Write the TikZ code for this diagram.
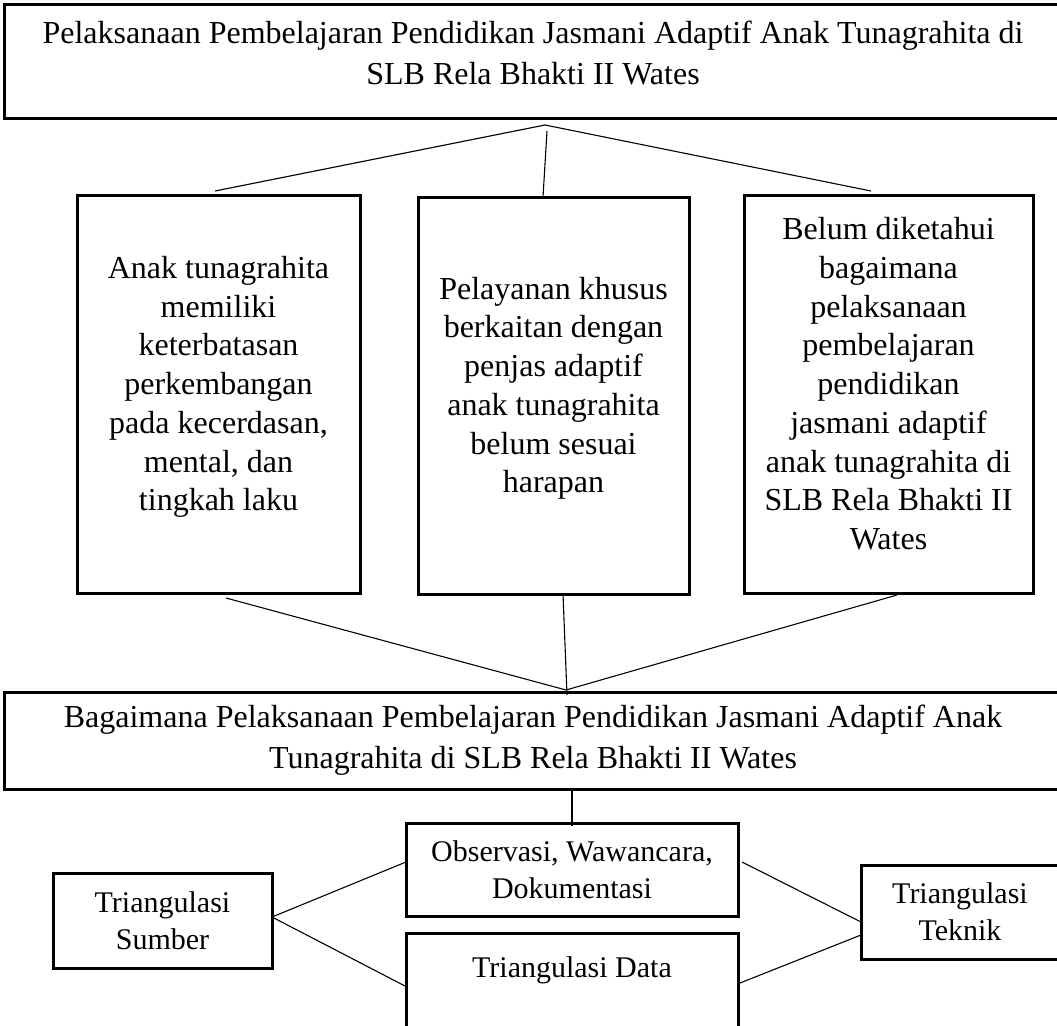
\documentclass[tikz,border=0pt]{standalone}
\usepackage{fontspec}
\setmainfont{Liberation Serif}
\usepackage{tikz}

\begin{document}
\begin{tikzpicture}[x=1pt,y=-1pt,
  mainbox/.style={draw,line width=3pt,align=center,inner sep=0pt,
    font=\fontsize{32}{41}\selectfont},
  issue/.style={draw,line width=3pt,align=center,inner sep=0pt,text depth=21pt,
    font=\fontsize{32}{38.75}\selectfont},
  method/.style={draw,line width=3pt,align=center,inner sep=0pt,
    font=\fontsize{30}{37}\selectfont},
  link/.style={line width=1.1pt}]
  \useasboundingbox (0,0) rectangle (1057,1025);
  \node[mainbox,text depth=18pt,minimum width=1058pt,minimum height=113pt] (judul) at (533,61.5)
    {Pelaksanaan Pembelajaran Pendidikan Jasmani Adaptif Anak Tunagrahita di\\SLB Rela Bhakti II Wates};
  \node[issue,minimum width=283pt,minimum height=398pt] (kiri) at (218.5,394)
    {Anak tunagrahita\\memiliki\\keterbatasan\\perkembangan\\pada kecerdasan,\\mental, dan\\tingkah laku};
  \node[issue,minimum width=271pt,minimum height=397pt] (tengah) at (553.5,395.5)
    {Pelayanan khusus\\berkaitan dengan\\penjas adaptif\\anak tunagrahita\\belum sesuai\\harapan};
  \node[issue,minimum width=289pt,minimum height=398pt] (kanan) at (888.5,394)
    {Belum diketahui\\bagaimana\\pelaksanaan\\pembelajaran\\pendidikan\\jasmani adaptif\\anak tunagrahita di\\SLB Rela Bhakti II\\Wates};
  \node[mainbox,minimum width=1058pt,minimum height=97pt] (rumusan) at (533,740.5)
    {Bagaimana Pelaksanaan Pembelajaran Pendidikan Jasmani Adaptif Anak\\Tunagrahita di SLB Rela Bhakti II Wates};
  \node[method,minimum width=332pt,minimum height=93pt] (teknik) at (572,869.5)
    {Observasi, Wawancara,\\Dokumentasi};
  \node[method,minimum width=332pt,minimum height=105pt,anchor=north] (data) at (572,932)
    {Triangulasi Data\\\mbox{}};
  \node[method,minimum width=219pt,minimum height=95pt] (sumber) at (162.5,920.5)
    {Triangulasi\\Sumber};
  \node[method,minimum width=198pt,minimum height=94pt] (tteknik) at (960,912)
    {Triangulasi\\Teknik};
  \coordinate (puncak) at (545,125);
  \coordinate (puncakB) at (547,131);
  \coordinate (kiriA) at (215,191);
  \coordinate (tengahA) at (543,197);
  \coordinate (kananA) at (871,191);
  \coordinate (kiriB) at (226,598);
  \coordinate (tengahB) at (563,594);
  \coordinate (kananB) at (897,595);
  \coordinate (temu) at (566,690);
  \coordinate (temuB) at (567,695);
  \coordinate (teknikW) at (406,862);
  \coordinate (teknikE) at (742,862);
  \coordinate (dataW) at (405,986);
  \coordinate (dataE) at (740,983);
  \coordinate (sumberE) at (272,917);
  \coordinate (tteknikA) at (861,922);
  \coordinate (tteknikB) at (861,935);
  \draw[link] (puncak) -- (kiriA);
  \draw[link] (puncakB) -- (tengahA);
  \draw[link] (puncak) -- (kananA);
  \draw[link] (kiriB) -- (temu);
  \draw[link] (tengahB) -- (temuB);
  \draw[link] (kananB) -- (temu);
  \draw[link] (rumusan.south -| teknik.north) -- ([yshift=-4pt]teknik.north);
  \draw[link] (sumberE) -- (teknikW);
  \draw[link] (sumberE) -- (dataW);
  \draw[link] (teknikE) -- (tteknikA);
  \draw[link] (dataE) -- (tteknikB);
\end{tikzpicture}
\end{document}
